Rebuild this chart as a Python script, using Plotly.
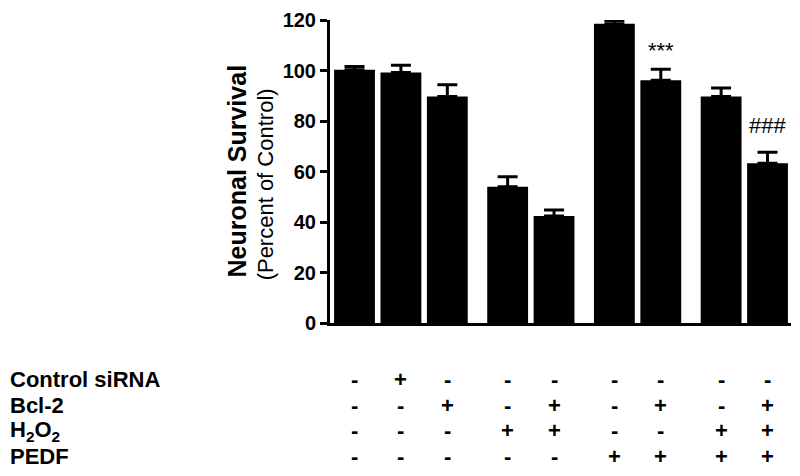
"""Neuronal survival bar chart with treatment table."""

import plotly.graph_objects as go

# data
survival = [100.3, 99.2, 89.7, 54.0, 42.4, 118.5, 96.1, 89.7, 63.3]
sem = [1.3, 2.9, 4.7, 3.9, 2.4, 1.3, 4.4, 3.4, 4.3]
group_sizes = [3, 2, 2, 2]

row_labels = ["Control siRNA", "Bcl-2", "H<sub>2</sub>O<sub>2</sub>", "PEDF"]
control_sirna = ["-", "+", "-", "-", "-", "-", "-", "-", "-"]
bcl2 = ["-", "-", "+", "-", "+", "-", "+", "-", "+"]
h2o2 = ["-", "-", "-", "+", "+", "-", "-", "+", "+"]
pedf = ["-", "-", "-", "-", "-", "+", "+", "+", "+"]
table_rows = [control_sirna, bcl2, h2o2, pedf]

marks = {6: "***", 8: "###"}

FONT = "Arial, Liberation Sans, sans-serif"

# bar positions: unit step inside a group, extra gap between groups
GROUP_GAP = 0.3
xpos = []
pos = 0.0
for g, n in enumerate(group_sizes):
    for i in range(n):
        xpos.append(round(pos, 3))
        pos += 1
    pos += GROUP_GAP

fig = go.Figure(
    go.Bar(
        x=xpos,
        y=survival,
        width=0.88,
        marker=dict(color="black", line=dict(width=0)),
        error_y=dict(
            type="data",
            array=sem,
            arrayminus=[0] * len(sem),
            symmetric=False,
            color="black",
            thickness=3,
            width=10,
        ),
    )
)

# significance marks
mark_pad = {6: 1.5, 8: 5.0}
for i, txt in marks.items():
    fig.add_annotation(
        x=xpos[i], y=survival[i] + sem[i] + mark_pad[i], xref="x", yref="y",
        text=txt, showarrow=False, xanchor="center", yanchor="bottom",
        font=dict(family=FONT, size=22, color="black"),
    )

# treatment table below the axis
row_px = [380, 406, 432, 458]
plot_top, plot_bottom, plot_left, plot_right = 17, 323, 330, 791
for r, (label, signs) in enumerate(zip(row_labels, table_rows)):
    py = (plot_bottom - row_px[r]) / (plot_bottom - plot_top)
    fig.add_annotation(
        x=(8 - plot_left) / (plot_right - plot_left), y=py, xref="paper", yref="paper",
        text=f"<b>{label}</b>", showarrow=False, xanchor="left", yanchor="middle",
        font=dict(family=FONT, size=22, color="black"),
    )
    for i, s in enumerate(signs):
        fig.add_annotation(
            x=xpos[i], y=py, xref="x", yref="paper",
            text=f"<b>{s}</b>", showarrow=False, xanchor="center", yanchor="middle",
            font=dict(family=FONT, size=22, color="black"),
        )

# y axis titles
fig.add_annotation(
    x=(236 - plot_left) / (plot_right - plot_left), y=(plot_bottom - 170) / (plot_bottom - plot_top),
    xref="paper", yref="paper", textangle=-90, xanchor="center", yanchor="middle",
    text="<b>Neuronal Survival</b>", showarrow=False,
    font=dict(family=FONT, size=25, color="black"),
)
fig.add_annotation(
    x=(265 - plot_left) / (plot_right - plot_left), y=(plot_bottom - 183) / (plot_bottom - plot_top),
    xref="paper", yref="paper", textangle=-90, xanchor="center", yanchor="middle",
    text="(Percent of Control)", showarrow=False,
    font=dict(family=FONT, size=22, color="black"),
)

fig.update_xaxes(
    range=[-0.528, 9.406], showticklabels=False, ticks="", showgrid=False,
    zeroline=False, showline=True, linecolor="black", linewidth=3,
)
fig.update_yaxes(
    range=[0, 120], tickvals=[0, 20, 40, 60, 80, 100, 120], showgrid=False,
    zeroline=False, showline=True, linecolor="black", linewidth=3,
    ticks="outside", ticklen=7, tickwidth=3, tickcolor="black",
    tickfont=dict(family=FONT, size=20, color="black", weight="bold"),
)
fig.update_layout(
    width=800, height=476, showlegend=False,
    paper_bgcolor="white", plot_bgcolor="white",
    margin=dict(l=plot_left, r=800 - plot_right, t=plot_top, b=476 - plot_bottom),
)

fig.write_html(
    "out.html",
    config={"displayModeBar": False},
    post_script="document.body.style.margin='0';",
)
